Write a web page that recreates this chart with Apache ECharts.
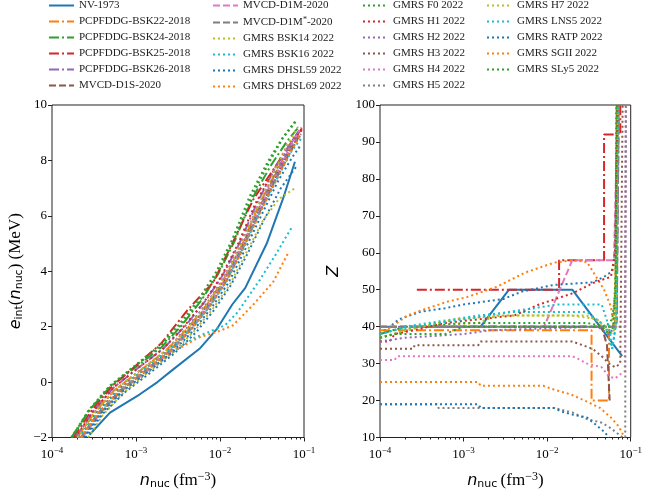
<!DOCTYPE html>
<html>
<head>
<meta charset="utf-8">
<script src="https://cdn.jsdelivr.net/npm/echarts@6/dist/echarts.min.js"></script>
<style>
html, body { margin: 0; padding: 0; background: #fff; }
#chart { width: 645px; height: 495px; }
</style>
</head>
<body>
<div id="chart"></div>
<script>
// series names, in legend order
var names = ['NV-1973', 'PCPFDDG-BSK22-2018', 'PCPFDDG-BSK24-2018', 'PCPFDDG-BSK25-2018',
    'PCPFDDG-BSK26-2018', 'MVCD-D1S-2020', 'MVCD-D1M-2020', 'MVCD-D1M*-2020',
    'GMRS BSK14 2022', 'GMRS BSK16 2022', 'GMRS DHSL59 2022', 'GMRS DHSL69 2022',
    'GMRS F0 2022', 'GMRS H1 2022', 'GMRS H2 2022', 'GMRS H3 2022', 'GMRS H4 2022',
    'GMRS H5 2022', 'GMRS H7 2022', 'GMRS LNS5 2022', 'GMRS RATP 2022',
    'GMRS SGII 2022', 'GMRS SLy5 2022'];

// x tick labels (log axis) and minor ticks
var xMajor = [1e-4, 1e-3, 1e-2, 1e-1];
var xMinor = [2e-4, 3e-4, 4e-4, 5e-4, 6e-4, 7e-4, 8e-4, 9e-4,
    2e-3, 3e-3, 4e-3, 5e-3, 6e-3, 7e-3, 8e-3, 9e-3,
    2e-2, 3e-2, 4e-2, 5e-2, 6e-2, 7e-2, 8e-2, 9e-2];

// left panel: e_int (MeV) vs n_nuc (fm^-3)
var eNV = [[2.8e-4,-1.9],[4.9e-4,-1.1],[1.1e-3,-0.45],[1.8e-3,0.0],[2.75e-3,0.45],[5.7e-3,1.2],[9.1e-3,1.9],[1.4e-2,2.8],[2e-2,3.4],[3.6e-2,5.0],[5.6e-2,6.6],[7.8e-2,7.95]];
var eBSK22 = [[2.0e-4,-2],[3.2e-4,-1.1],[5.5e-4,-0.3],[1.1e-3,0.4],[2.2e-3,1.1],[4e-3,1.9],[7e-3,2.8],[1.1e-2,3.7],[1.8e-2,4.9],[2.8e-2,6.3],[4.5e-2,7.5],[6.5e-2,8.4],[8.5e-2,9.0]];
var eBSK24 = [[1.7e-4,-2],[2.8e-4,-1.0],[5e-4,-0.15],[1e-3,0.55],[2e-3,1.25],[3.4e-3,2.0],[6e-3,2.95],[9.5e-3,3.9],[1.5e-2,5.1],[2.4e-2,6.6],[4e-2,7.8],[6.3e-2,8.7],[8.6e-2,9.2]];
var eBSK25 = [[1.8e-4,-2],[3e-4,-1.0],[5.2e-4,-0.15],[1e-3,0.6],[2e-3,1.4],[4.1e-3,2.6],[8.3e-3,3.6],[1.4e-2,5.0],[2.5e-2,6.6],[5.1e-2,8.0],[9.5e-2,9.17]];
var eBSK26 = [[1.9e-4,-2],[3.1e-4,-1.05],[5.4e-4,-0.2],[1.05e-3,0.5],[2.1e-3,1.2],[3.8e-3,2.0],[6.6e-3,2.9],[1.05e-2,3.8],[1.7e-2,5.0],[2.7e-2,6.4],[4.3e-2,7.6],[6.5e-2,8.5],[8.8e-2,9.1]];
var eD1S = [[2.2e-4,-2],[3.6e-4,-1.1],[6.5e-4,-0.3],[1.3e-3,0.4],[2.5e-3,1.1],[4.4e-3,1.9],[7.5e-3,2.8],[1.2e-2,3.7],[1.9e-2,4.9],[3e-2,6.2],[4.7e-2,7.4],[6.8e-2,8.3],[8.8e-2,8.9]];
var eD1M = [[2.3e-4,-2],[3.8e-4,-1.1],[6.8e-4,-0.3],[1.35e-3,0.4],[2.6e-3,1.1],[4.5e-3,1.9],[7.6e-3,2.8],[1.2e-2,3.7],[1.9e-2,4.9],[3e-2,6.3],[4.7e-2,7.5],[6.8e-2,8.4],[9e-2,9.0]];
var eD1Ms = [[2.2e-4,-2],[3.7e-4,-1.1],[6.6e-4,-0.3],[1.3e-3,0.42],[2.5e-3,1.12],[4.4e-3,1.92],[7.4e-3,2.82],[1.17e-2,3.72],[1.85e-2,4.92],[2.95e-2,6.3],[4.6e-2,7.5],[6.7e-2,8.4],[8.8e-2,9.0]];
var eBSK14 = [[2.7e-4,-2],[4e-4,-1.2],[7e-4,-0.4],[1.4e-3,0.35],[2.7e-3,1.05],[4.8e-3,1.8],[8e-3,2.6],[1.3e-2,3.5],[2e-2,4.6],[3.2e-2,5.8],[5e-2,6.6],[7.8e-2,7.0]];
var eBSK16 = [[2.3e-4,-2],[3.8e-4,-1.1],[7e-4,-0.3],[1.4e-3,0.4],[2.8e-3,1.1],[5e-3,1.6],[1.15e-2,2.05],[1.6e-2,2.5],[3e-2,3.7],[4.6e-2,4.6],[7.2e-2,5.6]];
var eDHSL59 = [[2.5e-4,-2],[4e-4,-1.15],[7.5e-4,-0.35],[1.5e-3,0.35],[2.9e-3,1.05],[5.2e-3,1.8],[8.5e-3,2.6],[1.35e-2,3.5],[2.1e-2,4.6],[3.4e-2,5.9],[5.3e-2,7.0],[8.2e-2,7.8]];
var eDHSL69 = [[2.3e-4,-2],[3.8e-4,-1.1],[7e-4,-0.3],[1.4e-3,0.4],[2.8e-3,1.1],[5.5e-3,1.6],[1.0e-2,1.85],[1.43e-2,2.05],[2.5e-2,2.8],[4.3e-2,3.62],[6.5e-2,4.67]];
var eF0 = [[1.75e-4,-2],[2.8e-4,-1.0],[4.9e-4,-0.15],[9.5e-4,0.55],[1.9e-3,1.25],[3.3e-3,2.0],[5.8e-3,2.95],[9.2e-3,3.9],[1.45e-2,5.1],[2.3e-2,6.6],[3.8e-2,7.9],[5.6e-2,8.8],[8e-2,9.4]];
var eH1 = [[1.9e-4,-2],[3.1e-4,-1.05],[5.4e-4,-0.2],[1.05e-3,0.5],[2.1e-3,1.2],[3.7e-3,2.0],[6.5e-3,2.9],[1.03e-2,3.8],[1.65e-2,5.0],[2.6e-2,6.4],[4.3e-2,7.6],[6.5e-2,8.6],[9.5e-2,9.1]];
var eH2 = [[2e-4,-2],[3.3e-4,-1.05],[5.8e-4,-0.25],[1.15e-3,0.45],[2.3e-3,1.15],[4e-3,1.95],[7e-3,2.85],[1.1e-2,3.75],[1.75e-2,4.95],[2.8e-2,6.3],[4.4e-2,7.5],[6.6e-2,8.5],[9e-2,9.1]];
var eH3 = [[2.1e-4,-2],[3.4e-4,-1.1],[6e-4,-0.3],[1.2e-3,0.42],[2.4e-3,1.12],[4.2e-3,1.9],[7.2e-3,2.8],[1.13e-2,3.7],[1.8e-2,4.9],[2.9e-2,6.2],[4.6e-2,7.4],[6.8e-2,8.4],[9.2e-2,8.95]];
var eH4 = [[2.2e-4,-2],[3.6e-4,-1.1],[6.3e-4,-0.3],[1.25e-3,0.42],[2.45e-3,1.12],[4.3e-3,1.9],[7.3e-3,2.8],[1.15e-2,3.7],[1.82e-2,4.9],[2.9e-2,6.2],[4.6e-2,7.45],[6.9e-2,8.5],[9.3e-2,9.2]];
var eH5 = [[2.3e-4,-2],[3.8e-4,-1.1],[6.7e-4,-0.3],[1.3e-3,0.4],[2.5e-3,1.1],[4.5e-3,1.88],[7.6e-3,2.75],[1.2e-2,3.65],[1.9e-2,4.85],[3e-2,6.15],[4.7e-2,7.35],[6.9e-2,8.3],[9e-2,8.9]];
var eH7 = [[2e-4,-2],[3.3e-4,-1.05],[5.8e-4,-0.25],[1.15e-3,0.45],[2.3e-3,1.15],[4.1e-3,1.92],[7e-3,2.8],[1.1e-2,3.7],[1.75e-2,4.9],[2.8e-2,6.3],[4.4e-2,7.6],[6.5e-2,8.6],[8.8e-2,9.3]];
var eLNS5 = [[2.1e-4,-2],[3.5e-4,-1.1],[6.2e-4,-0.3],[1.2e-3,0.42],[2.4e-3,1.1],[4.3e-3,1.85],[7.4e-3,2.7],[1.17e-2,3.6],[1.85e-2,4.8],[2.95e-2,6.1],[4.7e-2,7.3],[7e-2,8.3],[9.3e-2,8.8]];
var eRATP = [[2.4e-4,-2],[3.9e-4,-1.1],[7e-4,-0.32],[1.4e-3,0.38],[2.7e-3,1.08],[4.8e-3,1.85],[8.1e-3,2.72],[1.27e-2,3.6],[2e-2,4.8],[3.2e-2,6.1],[5e-2,7.3],[7.2e-2,8.1],[8.9e-2,8.5]];
var eSGII = [[2.2e-4,-2],[3.6e-4,-1.1],[6.4e-4,-0.3],[1.27e-3,0.4],[2.5e-3,1.1],[4.4e-3,1.85],[7.5e-3,2.72],[1.18e-2,3.6],[1.88e-2,4.8],[3e-2,6.1],[4.7e-2,7.3],[6.9e-2,8.3],[9e-2,8.9]];
var eSLy5 = [[1.7e-4,-2],[2.75e-4,-1.0],[4.8e-4,-0.15],[9.3e-4,0.55],[1.85e-3,1.28],[3.2e-3,2.05],[5.6e-3,3.0],[8.9e-3,3.95],[1.4e-2,5.15],[2.25e-2,6.7],[3.7e-2,7.95],[5.5e-2,8.8],[7.8e-2,9.4]];

// right panel: Z vs n_nuc
var zNV = [[2.8e-4,40],[1.6e-3,40],[3.5e-3,50],[2.0e-2,50],[7.9e-2,32]];
var zBSK22 = [[1e-4,39],[3.4e-2,39],[3.4e-2,20],[5.5e-2,20],[5.5e-2,40],[6.5e-2,40],[7e-2,100]];
var zBSK24 = [[1e-4,38],[2e-4,40],[6e-2,40],[6.8e-2,42],[7e-2,100]];
var zBSK25 = [[2.76e-4,50],[1.39e-2,50],[1.39e-2,58],[4.8e-2,58],[4.8e-2,92],[7.5e-2,92],[7.5e-2,100]];
var zBSK26 = [[1e-4,40],[6.5e-2,40],[6.8e-2,46],[7.2e-2,100]];
var zD1S = [[1e-4,40],[4.5e-2,40],[5.2e-2,35],[5.6e-2,20]];
var zD1M = [[1e-4,40],[9.2e-3,40],[2e-2,58],[6.3e-2,58],[7e-2,100]];
var zD1Ms = [[1e-4,40],[6.8e-2,40],[7.2e-2,100]];
var zBSK14 = [[1e-4,37],[1.5e-4,38],[2.5e-4,40],[1.5e-3,41],[2.5e-3,43],[3e-2,43],[4.5e-2,41],[6e-2,38],[6.6e-2,40],[7e-2,100]];
var zBSK16 = [[1e-4,38],[2e-4,40],[1.5e-3,43],[4e-3,44],[3e-2,44],[5e-2,40],[6e-2,34],[6.6e-2,40],[7e-2,100]];
var zDHSL59 = [[1e-4,38],[1.7e-4,42],[3e-4,44],[6e-4,45],[1e-3,46],[3e-3,47.5],[5e-3,49.5],[1.2e-2,51.3],[3.5e-2,52],[4.8e-2,53.5],[6e-2,55],[6.5e-2,58],[7e-2,100]];
var zDHSL69 = [[1e-4,38],[1.6e-4,41],[2.1e-4,43],[3.7e-4,45],[6.5e-4,46.8],[1.1e-3,48],[2.5e-3,50.8],[5.4e-3,54.6],[1.2e-2,57.3],[2e-2,58],[3e-2,57.5],[3.6e-2,54.6],[4.8e-2,50],[5.8e-2,45.4],[6.3e-2,40],[6.7e-2,60],[6.8e-2,100]];
var zF0 = [[1e-4,37],[1.5e-4,38],[3e-4,40],[1e-3,41],[3e-2,41],[5e-2,40],[6e-2,42],[6.6e-2,50],[6.8e-2,100]];
var zH1 = [[1e-4,36],[1.3e-4,36],[1.5e-4,38],[2.5e-4,39],[6e-4,41],[1.5e-3,42],[4e-3,43],[8e-3,46],[2e-2,49],[3.7e-2,52],[5.8e-2,53.5],[6.5e-2,60],[7e-2,100]];
var zH2 = [[1e-4,36],[2e-4,37],[1e-3,38],[2e-3,39],[4e-2,40],[5.5e-2,38],[6.5e-2,40],[8.5e-2,40],[8.8e-2,100]];
var zH3 = [[1e-4,34],[2.5e-4,34],[2.6e-4,35],[1.5e-3,35],[1.6e-3,36],[2e-2,36],[3.5e-2,34],[4.5e-2,32],[5.5e-2,30],[6.5e-2,29],[7.5e-2,30],[8e-2,100]];
var zH4 = [[1e-4,31],[1.5e-4,31],[1.6e-4,32],[2e-2,32],[2.5e-2,31],[3e-2,30],[4.5e-2,29],[5.5e-2,26.5],[6.5e-2,26],[8.5e-2,28],[8.8e-2,100]];
var zH5 = [[1e-4,19],[4.8e-4,19],[5e-4,18],[1.2e-2,18],[2e-2,16.8],[3e-2,15],[4.5e-2,14],[5.8e-2,12.5],[8e-2,10],[8.6e-2,10],[8.7e-2,100]];
var zH7 = [[1e-4,37],[2e-4,39],[8e-4,42],[3e-3,43],[2e-2,43],[4e-2,42],[5.5e-2,38],[6.5e-2,40],[7e-2,100]];
var zLNS5 = [[1e-4,38],[1.5e-4,39],[2.5e-4,40],[2e-3,43],[3.5e-3,44],[7e-3,45],[1.3e-2,46],[4.5e-2,46],[5.5e-2,40],[6e-2,34],[6.6e-2,40],[7e-2,100]];
var zRATP = [[1e-4,19],[1.5e-3,19],[1.6e-3,18],[1.2e-2,18],[1.5e-2,17],[2e-2,16.2],[3e-2,15.4],[3.8e-2,13.5],[4.8e-2,11.6],[5.5e-2,10]];
var zSGII = [[1e-4,25],[1.5e-3,25],[1.6e-3,24],[9e-3,24],[1.2e-2,23],[1.95e-2,21.6],[3e-2,19.7],[4.3e-2,18],[5.8e-2,15.4],[7.2e-2,13],[8e-2,11],[8.5e-2,10]];
var zSLy5 = [[1e-4,37],[1.5e-4,38],[6e-4,38],[1e-3,40],[4.5e-2,40],[5.5e-2,38],[6.2e-2,40],[6.6e-2,55],[6.7e-2,100]];

var eData = [eNV, eBSK22, eBSK24, eBSK25, eBSK26, eD1S, eD1M, eD1Ms, eBSK14, eBSK16, eDHSL59, eDHSL69,
    eF0, eH1, eH2, eH3, eH4, eH5, eH7, eLNS5, eRATP, eSGII, eSLy5];
var zData = [zNV, zBSK22, zBSK24, zBSK25, zBSK26, zD1S, zD1M, zD1Ms, zBSK14, zBSK16, zDHSL59, zDHSL69,
    zF0, zH1, zH2, zH3, zH4, zH5, zH7, zLNS5, zRATP, zSGII, zSLy5];

var C = {blue:'#1f77b4', orange:'#ff7f0e', green:'#2ca02c', red:'#d62728', purple:'#9467bd',
    brown:'#8c564b', pink:'#e377c2', gray:'#7f7f7f', olive:'#bcbd22', cyan:'#17becf'};
var colors = [C.blue, C.orange, C.green, C.red, C.purple, C.brown, C.pink, C.gray, C.olive, C.cyan, C.blue, C.orange,
    C.green, C.red, C.purple, C.brown, C.pink, C.gray, C.olive, C.cyan, C.blue, C.orange, C.green];
var styles = ['solid', 'dashdot', 'dashdot', 'dashdot', 'dashdot', 'dashed', 'dashed', 'dashed',
    'dotted', 'dotted', 'dotted', 'dotted', 'dotted', 'dotted', 'dotted', 'dotted', 'dotted',
    'dotted', 'dotted', 'dotted', 'dotted', 'dotted', 'dotted'];
var dash = {solid: 'solid', dashdot: [10, 3, 2, 3], dashed: [7, 3], dotted: [2, 3]};

var serif = 'Liberation Serif';
var sans = 'DejaVu Sans';

function sup10(v) {
    var p = Math.round(Math.log10(v));
    return '{b|10}{s|' + (p < 0 ? '\u2212' + (-p) : p) + '}';
}
function minus(v) {
    return v < 0 ? '\u2212' + (-v) : '' + v;
}

var tickRich = {
    b: {fontFamily: serif, fontSize: 13, color: '#000'},
    s: {fontFamily: serif, fontSize: 9, color: '#000', verticalAlign: 'top', padding: [0, 0, 7, 0]}
};
var nameRich = {
    i: {fontFamily: sans, fontStyle: 'italic', fontSize: 16, color: '#000'},
    sub: {fontFamily: sans, fontSize: 11, color: '#000', padding: [7, 0, 0, 0]},
    r: {fontFamily: serif, fontSize: 17, color: '#000'},
    sup: {fontFamily: serif, fontSize: 12, color: '#000', padding: [0, 0, 9, 0]}
};

function xAxes(grid) {
    return [{
        type: 'log', gridIndex: grid, min: 1e-4, max: 1e-1, position: 'bottom',
        name: '{i|n}{sub|nuc} {r|(fm}{sup|\u22123}{r|)}',
        nameLocation: 'middle', nameGap: 33, nameTextStyle: {rich: nameRich},
        axisLine: {show: false, onZero: false},
        axisTick: {length: 4, lineStyle: {color: '#222'}, customValues: xMajor},
        axisLabel: {margin: 9, formatter: sup10, rich: tickRich, customValues: xMajor},
        splitLine: {show: false}
    }, {
        type: 'log', gridIndex: grid, min: 1e-4, max: 1e-1, position: 'bottom',
        axisLine: {show: false, onZero: false},
        axisTick: {length: 2, lineStyle: {color: '#222'}, customValues: xMinor},
        axisLabel: {show: false},
        splitLine: {show: false}
    }];
}

var series = [];
for (var g = 0; g < 2; g++) {
    for (var i = 0; i < names.length; i++) {
        series.push({
            name: names[i], type: 'line',
            xAxisIndex: g * 2, yAxisIndex: g,
            data: g === 0 ? eData[i] : zData[i],
            symbol: 'none', showSymbol: false,
            lineStyle: {color: colors[i], width: 2, type: dash[styles[i]]},
            itemStyle: {color: colors[i]},
            emphasis: {disabled: true},
            silent: true
        });
    }
}

function legendCol(left, items) {
    return {
        orient: 'vertical', left: left, top: 0, padding: 0,
        width: 160, height: 110,
        itemWidth: 25, itemHeight: 10, itemGap: 5,
        itemStyle: {opacity: 0},
        data: items,
        selectedMode: false,
        formatter: function (n) {
            if (n === 'MVCD-D1M*-2020') return '{t|MVCD-D1M}{s|*}{t|-2020}';
            return n;
        },
        textStyle: {
            fontFamily: serif, fontSize: 11, color: '#222',
            rich: {
                t: {fontFamily: serif, fontSize: 11, color: '#222'},
                s: {fontFamily: serif, fontSize: 8, color: '#222', padding: [0, 0, 5, 0]}
            }
        }
    };
}

var option = {
    animation: false,
    backgroundColor: '#fff',
    legend: [
        legendCol(48, names.slice(0, 6)),
        legendCol(212, names.slice(6, 12)),
        legendCol(362, names.slice(12, 18)),
        legendCol(486, names.slice(18, 23))
    ],
    grid: [
        {left: 52, top: 105, width: 252, height: 333, show: true, borderColor: '#222', borderWidth: 1},
        {left: 380, top: 105, width: 252, height: 333, show: true, borderColor: '#222', borderWidth: 1}
    ],
    xAxis: xAxes(0).concat(xAxes(1)),
    yAxis: [{
        type: 'value', gridIndex: 0, min: -2, max: 10, interval: 2,
        name: '{i|e}{sub|int}{r|(}{i|n}{sub|nuc}{r|) (MeV)}',
        nameLocation: 'middle', nameGap: 27, nameTextStyle: {rich: nameRich},
        axisLine: {show: false},
        axisTick: {show: true, length: 4, lineStyle: {color: '#222'}},
        axisLabel: {margin: 5, fontFamily: serif, fontSize: 13, color: '#000', formatter: minus},
        splitLine: {show: false}
    }, {
        type: 'value', gridIndex: 1, min: 10, max: 100, interval: 10,
        name: 'Z',
        nameLocation: 'middle', nameGap: 38,
        nameTextStyle: {fontFamily: sans, fontStyle: 'italic', fontSize: 16, color: '#000'},
        axisLine: {show: false},
        axisTick: {show: true, length: 4, lineStyle: {color: '#222'}},
        axisLabel: {margin: 5, fontFamily: serif, fontSize: 13, color: '#000'},
        splitLine: {show: false}
    }],
    series: series
};

var chart = echarts.init(document.getElementById('chart'), null, {renderer: 'canvas'});
chart.setOption(option);
</script>
</body>
</html>
